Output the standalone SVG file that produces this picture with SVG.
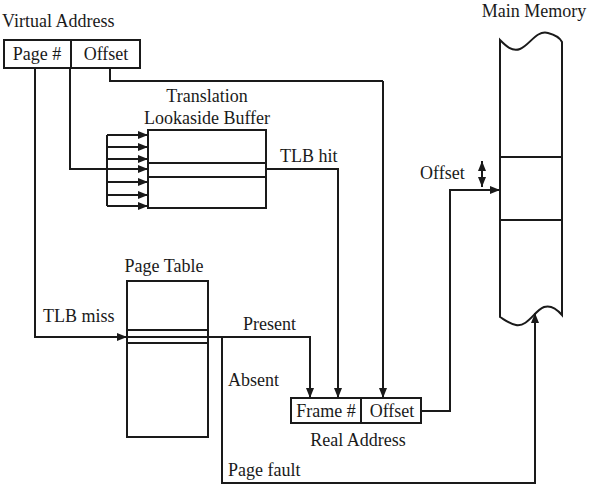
<svg xmlns="http://www.w3.org/2000/svg" width="590" height="486" viewBox="0 0 590 486">
<style>
text{font-family:"Liberation Serif","DejaVu Serif","Times New Roman",Times,serif;font-size:18px;fill:#1a1a1a}
.b{fill:#fff;stroke:#1a1a1a;stroke-width:2}
.l{fill:none;stroke:#1a1a1a;stroke-width:2}
.c{fill:none;stroke:#1a1a1a;stroke-width:2;marker-end:url(#ah)}
</style>
<defs>
<marker id="ah" viewBox="0 0 10 8" refX="10" refY="4" markerWidth="10" markerHeight="8" markerUnits="userSpaceOnUse" orient="auto"><path d="M0,0 L10,4 L0,8 Z" fill="#1a1a1a"/></marker>
<marker id="as" viewBox="0 0 10 8" refX="10" refY="4" markerWidth="10" markerHeight="8" markerUnits="userSpaceOnUse" orient="auto-start-reverse"><path d="M0,0 L10,4 L0,8 Z" fill="#1a1a1a"/></marker>
</defs>
<g id="virtual-address">
<text x="2" y="27" font-family="Liberation Serif, serif">Virtual Address</text>
<rect class="b" x="4" y="40" width="136" height="28"/>
<line class="l" x1="71" y1="40" x2="71" y2="68"/>
<text x="37" y="60" text-anchor="middle" font-family="Liberation Serif, serif">Page #</text>
<text x="106" y="60" text-anchor="middle" font-family="Liberation Serif, serif">Offset</text>
</g>
<g id="tlb">
<text x="207" y="102" text-anchor="middle" font-family="Liberation Serif, serif">Translation</text>
<text x="207" y="124" text-anchor="middle" font-family="Liberation Serif, serif">Lookaside Buffer</text>
<rect class="b" x="148" y="130" width="118" height="78"/>
<line class="l" x1="148" y1="163" x2="266" y2="163"/>
<line class="l" x1="148" y1="177" x2="266" y2="177"/>
</g>
<g id="page-table">
<text x="164" y="272" text-anchor="middle" font-family="Liberation Serif, serif">Page Table</text>
<rect class="b" x="127" y="281" width="81" height="156"/>
<line class="l" x1="127" y1="330" x2="208" y2="330"/>
<line class="l" x1="127" y1="343" x2="208" y2="343"/>
</g>
<g id="real-address">
<rect class="b" x="291" y="398" width="130" height="25"/>
<line class="l" x1="361" y1="398" x2="361" y2="423"/>
<text x="326" y="417" text-anchor="middle" font-family="Liberation Serif, serif">Frame #</text>
<text x="392" y="417" text-anchor="middle" font-family="Liberation Serif, serif">Offset</text>
<text x="358" y="446" text-anchor="middle" font-family="Liberation Serif, serif">Real Address</text>
</g>
<g id="main-memory">
<text x="534" y="17" text-anchor="middle" font-family="Liberation Serif, serif">Main Memory</text>
<path class="b" d="M500,40 C506,46 512,52 520,49 C530,45 536,30 548,33 C556,35 560,38 562,42 L562,315 C556,308 550,305 544,307 C534,311 528,327 516,325 C510,324 505,320 500,317 Z"/>
<line class="l" x1="500" y1="157" x2="562" y2="157"/>
<line class="l" x1="500" y1="220" x2="562" y2="220"/>
</g>
<g id="connectors">
<polyline class="l" points="110,68 110,81 383,81"/>
<polyline class="c" points="383,81 383,398"/>
<polyline class="l" points="70,68 70,169 107,169"/>
<line class="l" x1="107" y1="135" x2="107" y2="206"/>
<line class="c" x1="107" y1="135" x2="148" y2="135"/>
<line class="c" x1="107" y1="147" x2="148" y2="147"/>
<line class="c" x1="107" y1="159" x2="148" y2="159"/>
<line class="c" x1="107" y1="169" x2="148" y2="169"/>
<line class="c" x1="107" y1="182" x2="148" y2="182"/>
<line class="c" x1="107" y1="195" x2="148" y2="195"/>
<line class="c" x1="107" y1="206" x2="148" y2="206"/>
<polyline class="c" points="266,169 338,169 338,398"/>
<text x="280" y="162" font-family="Liberation Serif, serif">TLB hit</text>
<polyline class="c" points="35,68 35,337 127,337"/>
<text x="43" y="322" font-family="Liberation Serif, serif">TLB miss</text>
<polyline class="c" points="127,337 310,337 310,398"/>
<text x="243" y="330" font-family="Liberation Serif, serif">Present</text>
<polyline class="c" points="222,337 222,483 535,483 535,313"/>
<text x="228" y="386" font-family="Liberation Serif, serif">Absent</text>
<text x="228" y="476" font-family="Liberation Serif, serif">Page fault</text>
<polyline class="c" points="421,411 450,411 450,190 500,190"/>
<line x1="482" y1="161" x2="482" y2="187" class="l" marker-start="url(#as)" marker-end="url(#ah)"/>
<text x="420" y="179" font-family="Liberation Serif, serif">Offset</text>
</g>
</svg>
